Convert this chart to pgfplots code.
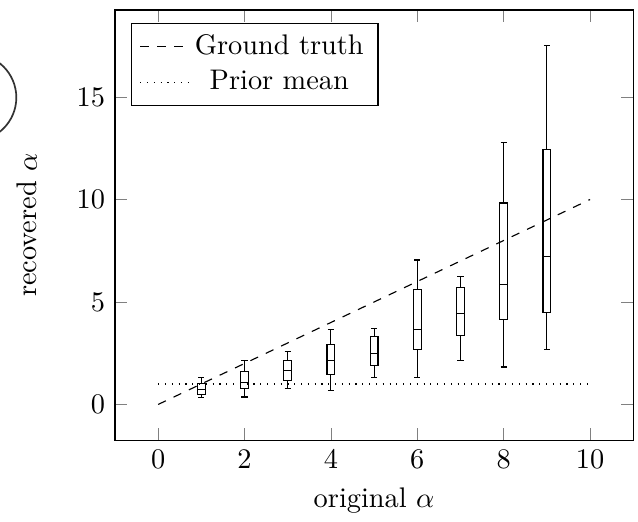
\documentclass[border=0pt]{standalone}
\usepackage{pgfplots}
\pgfplotsset{compat=1.18}
\usepgfplotslibrary{statistics}
\begin{document}
\begin{tikzpicture}
\path[use as bounding box] (-40.56pt,-28.47pt) rectangle (184.48pt,155.31pt);
\draw[black!80, line width=0.6pt] (-50.2pt,120.9pt) circle (15.4pt);
\begin{axis}[
  at={(0,0)}, anchor=south west,
  scale only axis, width=182.8pt, height=151.8pt,
  xmin=-1, xmax=11, ymin=-1.75, ymax=19.25,
  xtick={0,2,4,6,8,10}, ytick={0,5,10,15},
  xlabel={original $\alpha$}, ylabel={recovered $\alpha$},
  ylabel shift=7pt,
  legend pos=north west,
  legend cell align=center,
  boxplot/draw direction=y,
  boxplot/box extend=0.18,
]
\addplot[black, dashed] coordinates {(0,0) (10,10)};
\addlegendentry{Ground truth}
\addplot[black, dotted] coordinates {(0,1) (10,1)};
\addlegendentry{Prior mean}
\addplot[black, forget plot, boxplot prepared={draw position=1, lower whisker=0.32, lower quartile=0.50, median=0.73, upper quartile=1.02, upper whisker=1.30}] coordinates {};
\addplot[black, forget plot, boxplot prepared={draw position=2, lower whisker=0.36, lower quartile=0.76, median=1.05, upper quartile=1.59, upper whisker=2.15}] coordinates {};
\addplot[black, forget plot, boxplot prepared={draw position=3, lower whisker=0.78, lower quartile=1.17, median=1.67, upper quartile=2.16, upper whisker=2.58}] coordinates {};
\addplot[black, forget plot, boxplot prepared={draw position=4, lower whisker=0.70, lower quartile=1.44, median=2.16, upper quartile=2.91, upper whisker=3.66}] coordinates {};
\addplot[black, forget plot, boxplot prepared={draw position=5, lower whisker=1.32, lower quartile=1.88, median=2.49, upper quartile=3.30, upper whisker=3.69}] coordinates {};
\addplot[black, forget plot, boxplot prepared={draw position=6, lower whisker=1.30, lower quartile=2.66, median=3.67, upper quartile=5.62, upper whisker=7.05}] coordinates {};
\addplot[black, forget plot, boxplot prepared={draw position=7, lower whisker=2.13, lower quartile=3.38, median=4.45, upper quartile=5.70, upper whisker=6.24}] coordinates {};
\addplot[black, forget plot, boxplot prepared={draw position=8, lower whisker=1.83, lower quartile=4.16, median=5.85, upper quartile=9.83, upper whisker=12.80}] coordinates {};
\addplot[black, forget plot, boxplot prepared={draw position=9, lower whisker=2.70, lower quartile=4.47, median=7.20, upper quartile=12.43, upper whisker=17.50}] coordinates {};
\end{axis}
\end{tikzpicture}
\end{document}
